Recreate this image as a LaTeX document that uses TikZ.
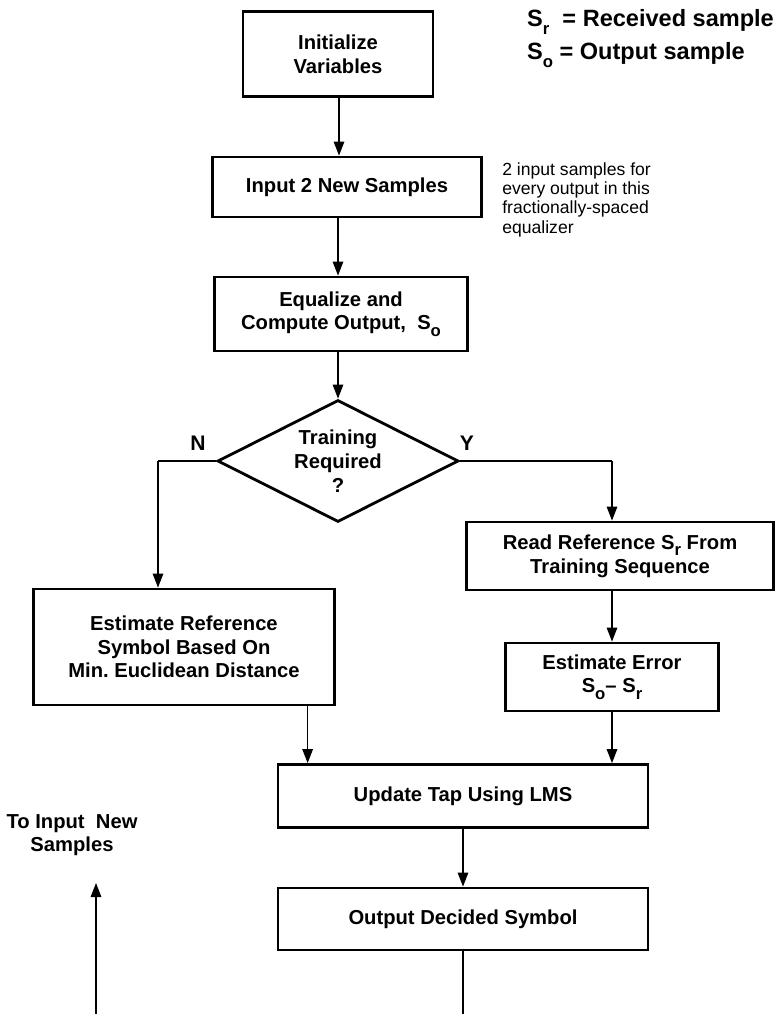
\documentclass[tikz,border=0pt]{standalone}
\usepackage{fontspec}
\setmainfont{Liberation Sans}
\usetikzlibrary{arrows.meta,shapes.geometric,calc}
\newcommand\lowsub[1]{\raisebox{-.6ex}{\fontsize{9.5}{9.5}\selectfont#1}}

\begin{document}
\begin{tikzpicture}[x=0.02cm,y=-0.02cm,
  box/.style={draw,line width=1.6pt,align=center,inner sep=0pt,font=\fontsize{11.5}{13.5}\selectfont\bfseries},
  flow/.style={-{Triangle[width=6pt,length=8pt]},line width=0.8pt},
  tag/.style={font=\fontsize{12}{14}\selectfont\bfseries}]
  % equalizer flow: training branch on the right, decision-directed branch on the left
  \useasboundingbox (0,0) rectangle (776,1014);
  \node[box,minimum width=3.8cm,minimum height=1.7cm] (init) at (338,54) {Initialize\\Variables};
  \node[box,minimum width=5.38cm,minimum height=1.2cm] (input) at (347,187) {Input 2 New Samples};
  \node[box,minimum width=5.06cm,minimum height=1.48cm] (equal) at (341,314) {Equalize and\\Compute Output,\ \ S\lowsub{o}};
  \node[box,draw,shape=diamond,shape aspect=2,minimum width=4.82cm,minimum height=2.44cm] (dec) at (338,461) {Training\\Required\\?};
  \node[box,minimum width=6.02cm,minimum height=2.32cm] (est) at (184,647) {Estimate Reference\\Symbol Based On\\Min.\ Euclidean Distance};
  \node[box,minimum width=6.14cm,minimum height=1.36cm] (read) at (620,556) {Read Reference S\lowsub{r} From\\Training Sequence};
  \node[box,minimum width=4.26cm,minimum height=1.36cm] (err) at (612,677) {Estimate Error\\S\lowsub{o}-- S\lowsub{r}};
  \node[box,minimum width=7.4cm,minimum height=1.26cm] (lms) at (463,796) {Update Tap Using LMS};
  \node[box,minimum width=7.4cm,minimum height=1.24cm] (out) at (463,919) {Output Decided Symbol};
  % legend and side notes
  \node[tag,anchor=west,font=\fontsize{13.4}{15}\selectfont\bfseries] (key1) at (521,22) {S\lowsub{r}\ \ = Received sample};
  \node[tag,anchor=west,font=\fontsize{13.4}{15}\selectfont\bfseries] (key2) at (521,55) {S\lowsub{o} = Output sample};
  \node[anchor=north west,align=left,inner sep=0pt,font=\fontsize{10}{11}\selectfont] (note) at (502,162)
    {2 input samples for\\every output in this\\fractionally-spaced\\equalizer};
  \node[tag] (ntag) at (198,443) {N};
  \node[tag] (ytag) at (467,443) {Y};
  \node[align=center,inner sep=0pt,font=\fontsize{11.5}{13.5}\selectfont\bfseries] (back) at (72,835) {To Input\ \ New\\Samples};
  % connectors
  \coordinate (ncol) at (158,461);
  \coordinate (ycol) at (612,461);
  \coordinate (estout) at ($(est.south west)!.907!(est.south east)$);
  \coordinate (loopdown) at (463,1014);
  \coordinate (loopfoot) at (96,1014);
  \coordinate (looptip) at (96,883);
  \draw[flow] (init.south -| 339,0) -- (input.north -| 339,0);
  \draw[flow] (input.south -| 338,0) -- (equal.north -| 338,0);
  \draw[flow] (equal.south -| 338,0) -- (dec.north);
  \draw[line width=0.8pt] (dec.west) -- (ncol);
  \draw[flow] (ncol) -- (ncol |- est.north);
  \draw[line width=0.8pt] (dec.east) -- (ycol);
  \draw[flow] (ycol) -- (ycol |- read.north);
  \draw[flow] (read.south -| ycol) -- (err.north -| ycol);
  \draw[flow] (estout) -- (estout |- lms.north);
  \draw[flow] (err.south -| ycol) -- (ycol |- lms.north);
  \draw[flow] (lms) -- (out);
  \draw[line width=0.8pt] (out.south) -- (loopdown);
  \draw[flow] (loopfoot) -- (looptip);
\end{tikzpicture}
\end{document}
